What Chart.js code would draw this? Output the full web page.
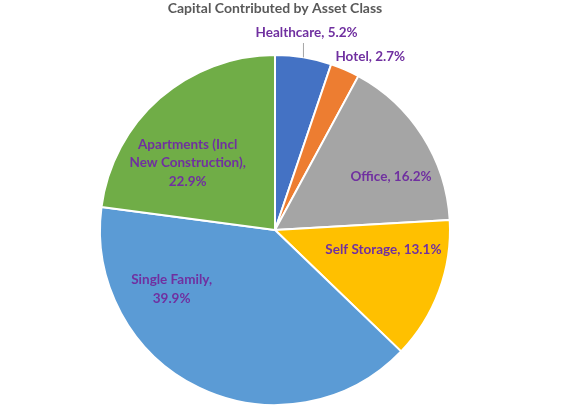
<!DOCTYPE html>
<html>
<head>
<meta charset="utf-8">
<script src="https://cdn.jsdelivr.net/npm/chart.js@4"></script>
<style>
  html, body { margin: 0; padding: 0; background: #fff; }
  #wrap { width: 577px; height: 415px; }
</style>
</head>
<body>
<div id="wrap"><canvas id="AssetChart"></canvas></div>
<script>
const categories = ["Healthcare", "Hotel", "Office", "Self Storage", "Single Family", "Apartments (Incl New Construction)"];
const shares = [5.2, 2.7, 16.2, 13.1, 39.9, 22.9];
const sliceColors = ["#4472C4", "#ED7D31", "#A5A5A5", "#FFC000", "#5B9BD5", "#70AD47"];
const labelLines = [
    ["Healthcare, 5.2%"],
    ["Hotel, 2.7%"],
    ["Office, 16.2%"],
    ["Self Storage, 13.1%"],
    ["Single Family,", "39.9%"],
    ["Apartments (Incl", "New Construction),", "22.9%"]
];
// where each label sits: angle clockwise from 12 o'clock, distance as share of radius
const labelSpots = [
    { angle: 9.1, dist: 1.14, leader: true },
    { angle: 28.8, dist: 1.13 },
    { angle: 65.3, dist: 0.73 },
    { angle: 100.5, dist: 0.63 },
    { angle: 240.3, dist: 0.68 },
    { angle: 307.6, dist: 0.63 }
];

const labelFont = "bold 13.5px Lato";
const lineGap = 18.5;

const sliceLabels = {
    id: "sliceLabels",
    afterDatasetsDraw(chart) {
        const ctx = chart.ctx;
        const arcs = chart.getDatasetMeta(0).data;
        ctx.save();
        ctx.font = labelFont;
        ctx.fillStyle = "#7030A0";
        ctx.textAlign = "center";
        ctx.textBaseline = "middle";
        arcs.forEach((arc, i) => {
            const spot = labelSpots[i];
            const lines = labelLines[i];
            const a = spot.angle * Math.PI / 180;
            const cx = arc.x + Math.sin(a) * arc.outerRadius * spot.dist;
            const cy = arc.y - Math.cos(a) * arc.outerRadius * spot.dist;

            if (spot.leader) {
                // leader line from the slice edge up to the label
                const mid = (arc.startAngle + arc.endAngle) / 2;
                const ex = arc.x + Math.cos(mid) * arc.outerRadius;
                const ey = arc.y + Math.sin(mid) * arc.outerRadius;
                ctx.strokeStyle = "#A6A6A6";
                ctx.lineWidth = 1;
                ctx.beginPath();
                ctx.moveTo(ex, ey);
                ctx.lineTo(ex, cy + 10);
                ctx.stroke();
            }

            const top = cy - (lines.length - 1) * lineGap / 2;
            lines.forEach((line, k) => ctx.fillText(line, cx, top + k * lineGap));
        });
        ctx.restore();
    }
};

const ctx = document.getElementById("AssetChart").getContext("2d");
const chart = new Chart(ctx, {
    type: "pie",
    data: {
        labels: categories,
        datasets: [{
            data: shares,
            backgroundColor: sliceColors,
            borderColor: "#FFFFFF",
            borderWidth: 2
        }]
    },
    options: {
        responsive: true,
        maintainAspectRatio: false,
        animation: false,
        layout: {
            padding: { left: 99, right: 126, top: 0, bottom: 9 }
        },
        plugins: {
            legend: { display: false },
            tooltip: { enabled: false },
            title: {
                display: true,
                text: "Capital Contributed by Asset Class",
                color: "#595959",
                font: { family: "Lato", size: 14, weight: "bold" },
                padding: { top: 0, bottom: 37.2 }
            }
        }
    },
    plugins: [sliceLabels]
});
</script>
</body>
</html>
